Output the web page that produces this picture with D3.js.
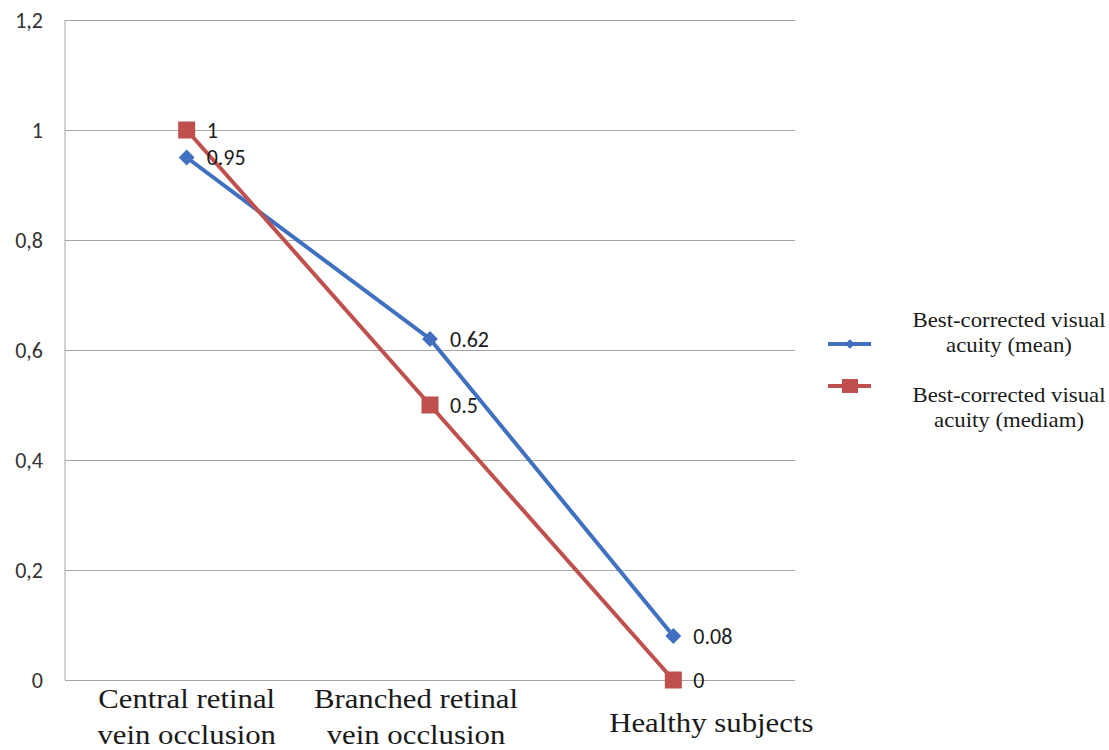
<!DOCTYPE html>
<html>
<head>
<meta charset="utf-8">
<style>
  body { margin: 0; background: #fff; }
  svg { display: block; }
</style>
</head>
<body>
<svg width="1109" height="750"></svg>
<script src="https://d3js.org/d3.v7.min.js"></script>
<script>
// data
var categories = ['Central retinal\nvein occlusion', 'Branched retinal\nvein occlusion', 'Healthy subjects'];
var meanValues = [0.95, 0.62, 0.08];
var medianValues = [1, 0.5, 0];
var yTicks = [0, 0.2, 0.4, 0.6, 0.8, 1, 1.2];
var seriesNames = ['Best-corrected visual\nacuity (mean)', 'Best-corrected visual\nacuity (mediam)'];

var svg = d3.select('svg');
var margin = { left: 65, top: 20, right: 314, bottom: 70 };
var width = +svg.attr('width') - margin.left - margin.right;
var height = +svg.attr('height') - margin.top - margin.bottom;

var g = svg.append('g')
    .attr('transform', `translate(${margin.left}, ${margin.top})`);

var x = d3.scaleBand().domain(categories).range([0, width]);
var y = d3.scaleLinear().domain([0, 1.2]).range([height, 0]);

var sansFont = 'Carlito, "Open Sans", sans-serif';
var serifFont = '"Liberation Serif", "Times New Roman", serif';
var stretch = 1.14; // source picture is a bit wider than tall

// gridlines + y labels
g.append('g')
    .call(d3.axisLeft(y).tickValues(yTicks).tickSize(-width).tickFormat(d => String(d).replace('.', ',')))
    .call(a => a.select('.domain').remove())
    .call(a => a.selectAll('line').attr('stroke', '#a6a6a6').attr('stroke-width', 1))
    .call(a => a.selectAll('text')
        .attr('x', -22)
        .attr('fill', '#333')
        .style('font-family', sansFont)
        .style('font-size', '22px'));

// left axis line
g.append('line')
    .attr('x1', 0).attr('x2', 0).attr('y1', 0).attr('y2', height)
    .attr('stroke', '#a6a6a6');

// stretched serif text block, centered at (cx, baseline)
function serifBlock(parent, cx, baseline, lines, size, lineGap) {
    var t = parent.append('g')
        .attr('transform', `translate(${cx},${baseline}) scale(${stretch},1)`)
        .append('text')
        .attr('text-anchor', 'middle')
        .attr('fill', '#1a1a1a')
        .style('font-family', serifFont)
        .style('font-size', size + 'px');
    lines.forEach(function (l, j) {
        t.append('tspan').attr('x', 0).attr('y', j * lineGap).text(l);
    });
}

// category labels
var labelShift = [0, -14, 38];
var catLabels = g.append('g');
categories.forEach(function (c, i) {
    var lines = c.split('\n');
    serifBlock(catLabels, x(c) + x.bandwidth() / 2 + labelShift[i],
        lines.length > 1 ? height + 28 : height + 52, lines, 27, 36);
});

var cx = function (d, i) { return x(categories[i]) + x.bandwidth() / 2; };

var line = d3.line()
    .x(function (d, i) { return cx(d, i); })
    .y(function (d) { return y(d); });

var blue = '#4070bf';
var red = '#c0504d';

g.append('path').datum(meanValues)
    .attr('fill', 'none').attr('stroke', blue).attr('stroke-width', 4)
    .attr('d', line);
g.append('path').datum(medianValues)
    .attr('fill', 'none').attr('stroke', red).attr('stroke-width', 4)
    .attr('d', line);

g.selectAll('.mean-pt').data(meanValues).enter().append('path')
    .attr('class', 'mean-pt')
    .attr('d', d3.symbol().type(d3.symbolDiamond2).size(160))
    .attr('fill', blue)
    .attr('transform', (d, i) => `translate(${cx(d, i)},${y(d)})`);

g.selectAll('.med-pt').data(medianValues).enter().append('rect')
    .attr('class', 'med-pt')
    .attr('x', (d, i) => cx(d, i) - 8.5)
    .attr('y', d => y(d) - 8.5)
    .attr('width', 17).attr('height', 17)
    .attr('fill', red);

// data labels
function addLabels(vals, cls) {
    g.selectAll('.' + cls).data(vals).enter().append('text')
        .attr('class', cls)
        .attr('x', (d, i) => cx(d, i) + 20)
        .attr('y', d => y(d))
        .attr('dy', '0.36em')
        .attr('fill', '#1a1a1a')
        .style('font-family', sansFont)
        .style('font-size', '22px')
        .text(d => String(d));
}
addLabels(meanValues, 'mean-lbl');
addLabels(medianValues, 'med-lbl');

// legend
var legend = svg.append('g');
var legendY = [344, 386];
var textY = [327, 402];
[blue, red].forEach(function (col, i) {
    legend.append('line')
        .attr('x1', 828).attr('x2', 871)
        .attr('y1', legendY[i]).attr('y2', legendY[i])
        .attr('stroke', col).attr('stroke-width', 4);
    if (i === 0) {
        legend.append('path')
            .attr('d', d3.symbol().type(d3.symbolDiamond2).size(60))
            .attr('fill', col)
            .attr('transform', `translate(850,${legendY[i]})`);
    } else {
        legend.append('rect')
            .attr('x', 842).attr('y', legendY[i] - 7)
            .attr('width', 16).attr('height', 14)
            .attr('fill', col);
    }
    serifBlock(legend, 1009, textY[i], seriesNames[i].split('\n'), 20, 25);
});
</script>
</body>
</html>
